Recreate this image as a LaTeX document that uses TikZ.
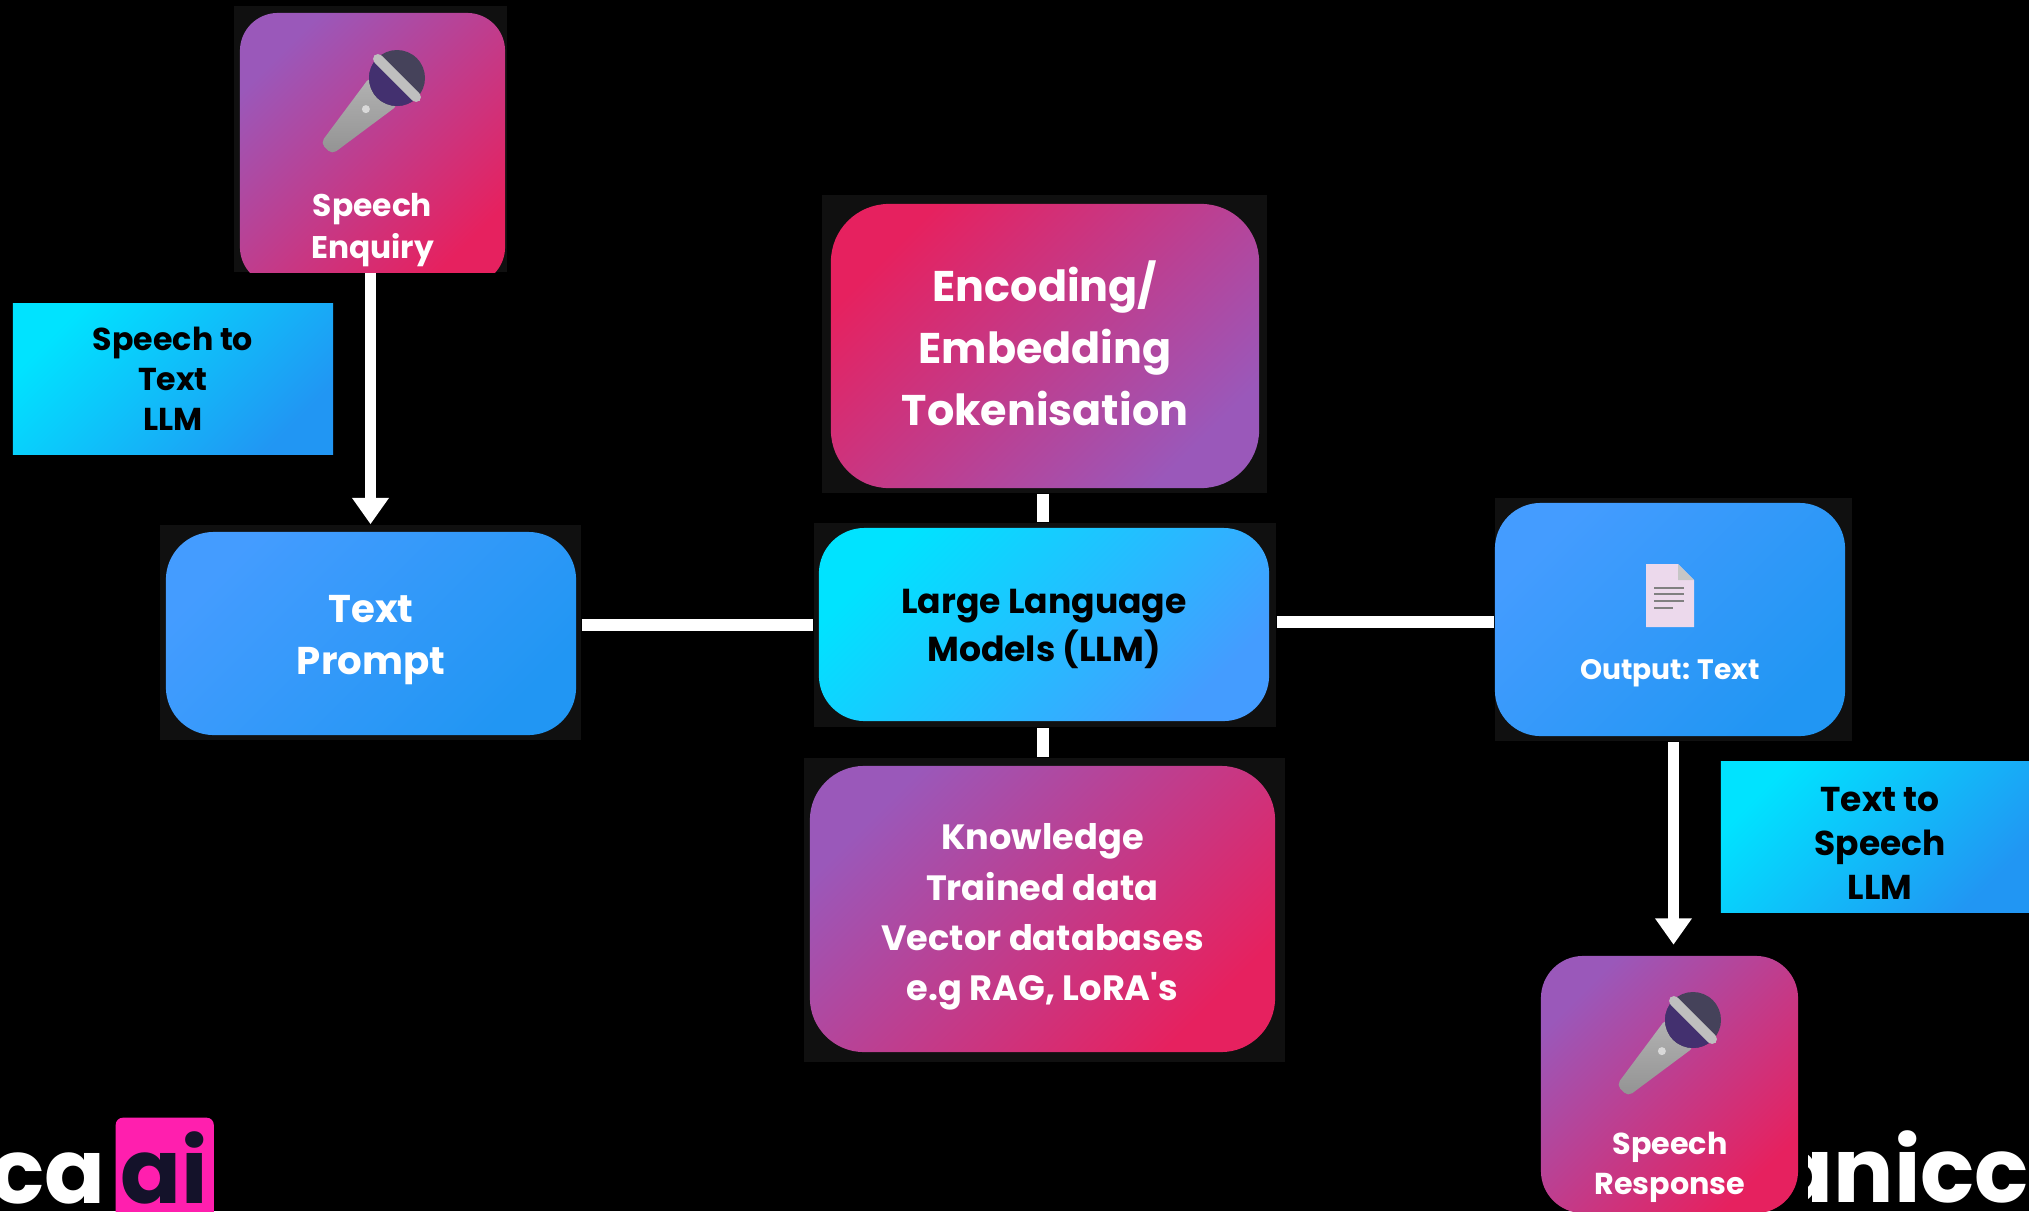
\documentclass[tikz,border=0pt]{standalone}
\usepackage{fontspec}
\setmainfont{Poppins}
\usetikzlibrary{arrows.meta}

\definecolor{violetc}{HTML}{9A58BA}
\definecolor{midc}{HTML}{BF358F}
\definecolor{rosec}{HTML}{E6215F}
\definecolor{skyc}{HTML}{00E3FF}
\definecolor{bluec}{HTML}{449CFF}
\definecolor{deepc}{HTML}{2196F3}
\definecolor{backc}{HTML}{101010}
\definecolor{logoc}{HTML}{FF1FAE}
\definecolor{inkc}{HTML}{14122A}
\definecolor{headc}{HTML}{45425A}
\definecolor{ringc}{HTML}{43306F}

\tikzset{
    backing/.style={fill=backc, inner sep=0pt},
    box/.style={inner sep=0pt},
    rosebox/.style={box, top color=violetc, middle color=midc, bottom color=rosec, shading angle=45},
    flipbox/.style={box, top color=rosec, middle color=midc, bottom color=violetc, shading angle=45},
    bluebox/.style={box, top color=bluec, bottom color=deepc, shading angle=45},
    cyanbox/.style={box, top color=skyc, bottom color=bluec, shading angle=45},
    tagbox/.style={box, top color=skyc, bottom color=deepc, shading angle=45},
    words/.style={align=center, text=white, inner sep=0pt},
    darkwords/.style={words, text=black},
    bar/.style={white, line width=3.4pt},
    flow/.style={bar, -{Triangle[width=10pt, length=7.5pt]}},
    mic/.pic={
        \shade[left color=gray!60, right color=gray!85, shading angle=0, rounded corners=1.5pt]
            (18,-20) -- (100,-8) -- (100,8) -- (18,20) -- cycle;
        \fill[gray!30] (44,0) circle (4);
        \fill[headc] (0,0) circle (28);
        \begin{scope}
            \clip (0,-30) rectangle (30,30);
            \fill[ringc] (0,0) circle (28);
        \end{scope}
        \fill[gray!50!white, rounded corners=1.5pt] (-5,-32) rectangle (5,32);
    }
}

\begin{document}
\begin{tikzpicture}[x=0.01cm, y=-0.01cm]
    \clip (0,0) rectangle (2029,1211);
    \fill[black] (0,0) rectangle (2029,1211);

    % dark plates behind the boxes
    \node[backing, minimum width=2.73cm, minimum height=2.66cm] (enquiry) at (370.5,139) {};
    \node[backing, minimum width=4.45cm, minimum height=2.98cm] (encoding) at (1044.5,344) {};
    \node[backing, minimum width=4.62cm, minimum height=2.04cm] (llm) at (1045,625) {};
    \node[backing, minimum width=4.81cm, minimum height=3.04cm] (knowledge) at (1044.5,910) {};
    \node[backing, minimum width=4.21cm, minimum height=2.15cm] (prompt) at (370.5,632.5) {};
    \node[backing, minimum width=3.57cm, minimum height=2.43cm] (output) at (1673.5,619.5) {};

    % boxes
    \begin{scope}
        \clip (234,6) rectangle (507,272);
        \node[rosebox, rounded corners=10.8pt, minimum width=2.65cm, minimum height=2.72cm] (enquirybox) at (372.5,149) {};
    \end{scope}
    \node[flipbox, rounded corners=16.5pt, minimum width=4.28cm, minimum height=2.84cm] (encodingbox) at (1045,346) {};
    \node[cyanbox, rounded corners=13pt, minimum width=4.5cm, minimum height=1.93cm] (llmbox) at (1044,624.5) {};
    \node[rosebox, rounded corners=15.4pt, minimum width=4.65cm, minimum height=2.86cm] (knowledgebox) at (1042.5,909) {};
    \node[bluebox, rounded corners=13.6pt, minimum width=4.1cm, minimum height=2.03cm] (promptbox) at (371,633.5) {};
    \node[bluebox, rounded corners=13pt, minimum width=3.5cm, minimum height=2.33cm] (outputbox) at (1670,619.5) {};
    \node[rosebox, rounded corners=12pt, minimum width=2.57cm, minimum height=2.57cm] (response) at (1669.5,1084.5) {};
    \node[tagbox, minimum width=3.2cm, minimum height=1.5cm] (speechtag) at (173,379) {};
    \node[tagbox, minimum width=3.08cm, minimum height=1.5cm] (texttag) at (1875,837) {};

    % words
    \node[words, font=\fontsize{12.2}{17.6}\bfseries\selectfont] (encodingtext) at (1045,343.5) {Encoding/\\Embedding\\Tokenisation};
    \node[darkwords, font=\fontsize{9.85}{13.6}\bfseries\selectfont] (llmtext) at (1044,629) {Large Language\\Models (LLM)};
    \node[words, font=\fontsize{10}{14.3}\bfseries\selectfont] (knowledgetext) at (1042.5,917) {Knowledge\\Trained data\\Vector databases\\e.g RAG, LoRA\textquotesingle s};
    \node[words, font=\fontsize{11}{15}\bfseries\selectfont] (prompttext) at (371,640) {Text\\Prompt};
    \node[darkwords, font=\fontsize{9}{11.4}\bfseries\selectfont] (speechtext) at (173,379) {Speech to\\Text\\LLM};
    \node[darkwords, font=\fontsize{9.8}{12.5}\bfseries\selectfont] (tagtext) at (1880,843) {Text to\\Speech\\LLM};
    \node[words, font=\fontsize{8.9}{11.7}\bfseries\selectfont] (enquirytext) at (372.5,230) {Speech\\Enquiry};
    \node[words, font=\fontsize{8.6}{11.4}\bfseries\selectfont] (responsetext) at (1670,1167.5) {Speech\\Response};
    \node[words, font=\fontsize{8}{10}\bfseries\selectfont] (outputtext) at (1670,673.5) {Output: Text};

    % icons
    \pic[rotate=225] at (397,78) {mic};
    \pic[rotate=225] at (1693,1020) {mic};
    \fill[white!85!violet] (1646,564) -- (1678,564) -- (1694,580) -- (1694,627) -- (1646,627) -- cycle;
    \fill[gray!45!white] (1678,564) -- (1694,580) -- (1678,580) -- cycle;
    \foreach \y/\w in {588/1684, 594/1684, 601/1684, 608/1673}
        \draw[gray, line width=0.5pt] (1654,\y) -- (\w,\y);

    % connectors
    \draw[flow] (enquiry.south) -- (prompt.north);
    \draw[bar] ([xshift=-0.5pt]encoding.south) -- ([xshift=-0.5pt]encoding.south |- llm.north);
    \draw[bar] ([xshift=-0.5pt]llm.south) -- ([xshift=-0.5pt]llm.south |- knowledge.north);
    \draw[bar] (prompt.east |- llm.west) -- (llm.west);
    \draw[bar] ([yshift=0.8pt]llm.east) -- ([yshift=0.8pt]output.west |- llm.east);
    \draw[flow, shorten >=3pt] (output.south) -- (output.south |- response.north);

    % logos
    \node[anchor=base east, inner sep=0pt, text=white, font=\fontsize{25.5}{26}\bfseries\selectfont] (logoleft) at (106,1203) {cca};
    \node[fill=logoc, rounded corners=2pt, anchor=north west, minimum width=0.98cm, minimum height=1.1cm] (logobox) at (115,1117) {};
    \node[anchor=base, inner sep=0pt, text=inkc, font=\fontsize{25.5}{26}\bfseries\selectfont] (logoai) at (164,1203) {ai};
    \begin{scope}
        \clip (1808,1100) rectangle (2029,1211);
        \node[anchor=base west, inner sep=0pt, text=white, font=\fontsize{25.5}{26}\bfseries\selectfont] (logoright) at (1772,1202) {anicca};
    \end{scope}
\end{tikzpicture}
\end{document}
